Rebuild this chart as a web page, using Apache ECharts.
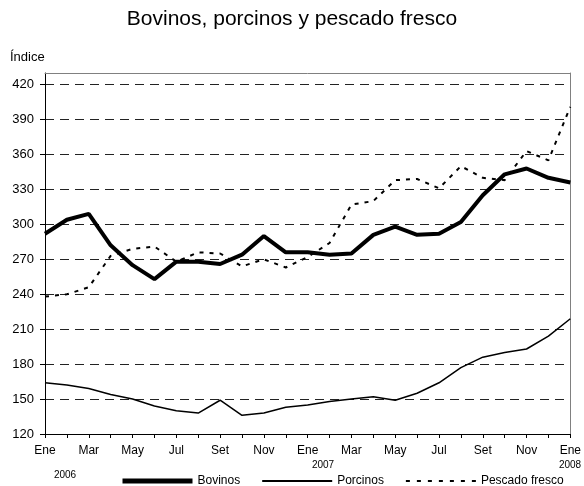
<!DOCTYPE html>
<html>
<head>
<meta charset="utf-8">
<title>Bovinos, porcinos y pescado fresco</title>
<script src="https://cdn.jsdelivr.net/npm/echarts@6/dist/echarts.min.js"></script>
<style>
    html, body { margin: 0; padding: 0; background: #fff; }
    .echarts { width: 584px; height: 486px; }
</style>
</head>
<body>
<div class="echarts" id="chart"></div>
<script>
// meses Ene 2006 .. Ene 2008
var meses = ['Ene','Feb','Mar','Abr','May','Jun','Jul','Ago','Set','Oct','Nov','Dic',
             'Ene','Feb','Mar','Abr','May','Jun','Jul','Ago','Set','Oct','Nov','Dic','Ene'];
var anios = ['2006', '2007', '2008'];

// series (indice)
var bovinos  = [292, 304, 309, 282, 265, 253, 268, 268, 266, 274, 290, 276,
                276, 274, 275, 291, 298, 291, 292, 302, 325, 343, 348, 340, 336];
var porcinos = [164, 162, 159, 154, 150, 144, 140, 138, 149, 136, 138, 143,
                145, 148, 150, 152, 149, 155, 164, 177, 186, 190, 193, 204, 219];
var pescado  = [238, 240, 246, 273, 279, 281, 268, 276, 275, 264, 270, 263,
                272, 284, 317, 320, 338, 339, 331, 350, 340, 338, 363, 355, 401];

var font = 'Liberation Sans, Arial, sans-serif';

var chart = echarts.init(document.getElementById('chart'));

var option = {
    animation: false,
    textStyle: { fontFamily: font, color: '#000' },
    title: [
        {// titulo
            text: 'Bovinos, porcinos y pescado fresco',
            left: 'center',
            top: 9,
            padding: 0,
            textStyle: { fontFamily: font, fontSize: 21, fontWeight: 'normal', color: '#000' }
        },
        {// nombre del eje
            text: 'Índice',
            left: 10,
            top: 51,
            padding: 0,
            textStyle: { fontFamily: font, fontSize: 13, fontWeight: 'normal', color: '#000' }
        }
    ],
    grid: { left: 45, right: 11, top: 73, bottom: 52 },
    legend: {
        left: 120,
        top: 475,
        padding: 0,
        itemWidth: 70,
        itemHeight: 12,
        itemGap: 21,
        itemStyle: { opacity: 0 },// sin simbolo, solo la linea
        textStyle: { fontFamily: font, fontSize: 12, color: '#000', padding: [3, 0, 0, 0] },
        data: [
            { name: 'Bovinos', lineStyle: { width: 5 } },
            { name: 'Porcinos', lineStyle: { width: 2 } },
            { name: 'Pescado fresco', lineStyle: { width: 2, type: [4, 7] } }
        ]
    },
    xAxis: [
        {
            type: 'category',
            data: meses,
            boundaryGap: false,
            axisLine: { lineStyle: { color: '#000', width: 1 } },
            axisTick: { show: true, interval: 0, length: 4, lineStyle: { color: '#000' } },
            axisLabel: { interval: 1, margin: 11, fontSize: 12, color: '#000', fontFamily: font },
            splitLine: { show: false }
        },
        {// borde superior
            type: 'category',
            data: meses,
            boundaryGap: false,
            position: 'top',
            axisLine: { lineStyle: { color: '#808080', width: 1 } },
            axisTick: { show: false },
            axisLabel: { show: false }
        }
    ],
    yAxis: [
        {
            type: 'value',
            min: 120,
            max: 430,
            interval: 30,
            axisLine: { show: true, lineStyle: { color: '#000', width: 1 } },
            axisTick: { show: true, length: 5, lineStyle: { color: '#000' } },
            axisLabel: {
                margin: 11, fontSize: 13, color: '#000', fontFamily: font,
                showMaxLabel: false,
                formatter: function (v) { return v % 30 === 0 ? v : ''; }
            },
            splitLine: {
                show: true,
                showMinLine: false,
                showMaxLine: false,
                lineStyle: { color: '#222', width: 1, type: [9, 6] }
            }
        },
        {// borde derecho
            type: 'value',
            min: 120,
            max: 430,
            position: 'right',
            axisLine: { show: true, lineStyle: { color: '#808080', width: 1 } },
            axisTick: { show: false },
            axisLabel: { show: false },
            splitLine: { show: false }
        }
    ],
    // anios bajo las etiquetas de meses
    graphic: [
        { type: 'text', x: 65, y: 475, style: { text: anios[0], font: '10px ' + font, fill: '#000', align: 'center', verticalAlign: 'middle' } },
        { type: 'text', x: 323, y: 465, style: { text: anios[1], font: '10px ' + font, fill: '#000', align: 'center', verticalAlign: 'middle' } },
        { type: 'text', x: 570, y: 465, style: { text: anios[2], font: '10px ' + font, fill: '#000', align: 'center', verticalAlign: 'middle' } }
    ],
    series: [
        {
            name: 'Bovinos',
            type: 'line',
            data: bovinos,
            symbol: 'none',
            lineStyle: { color: '#000', width: 4 },
            itemStyle: { color: '#000' },
            z: 4
        },
        {
            name: 'Porcinos',
            type: 'line',
            data: porcinos,
            symbol: 'none',
            lineStyle: { color: '#000', width: 1.5 },
            itemStyle: { color: '#000' },
            z: 3
        },
        {
            name: 'Pescado fresco',
            type: 'line',
            data: pescado,
            symbol: 'none',
            lineStyle: { color: '#000', width: 2, type: [4, 6] },
            itemStyle: { color: '#000' },
            z: 3
        }
    ]
};

chart.setOption(option);
</script>
</body>
</html>
